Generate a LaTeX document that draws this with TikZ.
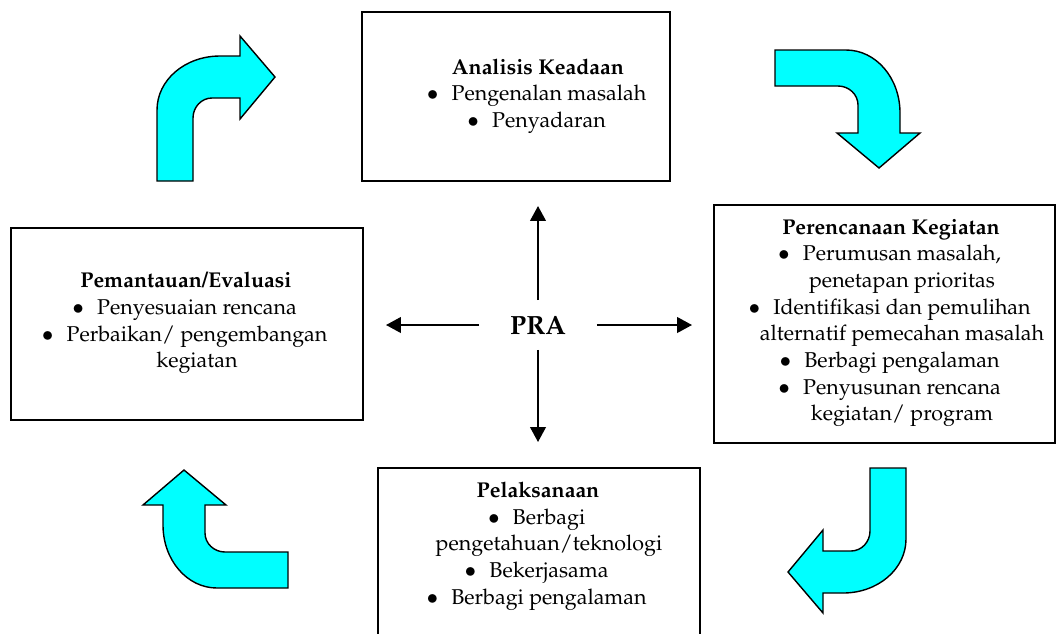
\documentclass[tikz,border=0pt]{standalone}
\usepackage[T1]{fontenc}
\usepackage{mathpazo}
\usetikzlibrary{arrows.meta}
\definecolor{Aqua}{RGB}{0,255,255}
\newcommand{\bul}{\hspace*{0.44cm}\llap{$\bullet$\hspace{0.26cm}}}
\newcommand{\cont}{\hspace*{0.44cm}}

\begin{document}
\begin{tikzpicture}[x=0.02cm,y=-0.02cm,
  every node/.style={align=center,font=\fontsize{12.2}{15.2}\selectfont},
  kotak/.style={draw,line width=1.2pt,inner sep=0pt},
  panah/.style={line width=0.9pt,-{Triangle[length=8.5pt,width=9pt]}},
  lengkung/.style={draw=black,fill=Aqua,line width=0.8pt,line join=miter}]
\useasboundingbox (0,0) rectangle (1060,633);
\clip (0,0) rectangle (1060,633);
% kotak kegiatan
\node[kotak,minimum width=6.16cm,minimum height=3.38cm] (ana) at (516,96.5) {};
\node[kotak,minimum width=6.82cm,minimum height=4.76cm] (ren) at (884.5,324) {};
\node[kotak,minimum width=6.44cm,minimum height=4.4cm] (pel) at (539,578) {};
\node[kotak,minimum width=7.04cm,minimum height=3.84cm] (pem) at (187,324) {};
\node (tana) at (538,96) {\textbf{Analisis Keadaan}\\ \bul Pengenalan masalah\\ \bul Penyadaran};
\node (tren) at (891,323) {\textbf{Perencanaan Kegiatan}\\ \bul Perumusan masalah,\\ \cont penetapan prioritas\\ \bul Identifikasi dan pemulihan\\ \cont alternatif pemecahan masalah\\ \bul Berbagi pengalaman\\ \bul Penyusunan rencana\\ \cont kegiatan/ program};
\node (tpel) at (538,546) {\textbf{Pelaksanaan}\\ \bul Berbagi\\ \cont pengetahuan/teknologi\\ \bul Bekerjasama\\ \bul Berbagi pengalaman};
\node (tpem) at (186,323) {\textbf{Pemantauan/Evaluasi}\\ \bul Penyesuaian rencana\\ \bul Perbaikan/ pengembangan\\ \cont kegiatan};
% pusat
\node[font=\fontsize{15}{18}\selectfont\bfseries,minimum width=2.34cm,minimum height=0.98cm,inner sep=0pt] (pra) at (538,325) {PRA};
\draw[panah,shorten >=0.48cm] (pra.north) -- (pra.north |- ana.south);
\draw[panah,shorten >=0.5cm] (pra.south) -- (pra.south |- pel.north);
\draw[panah,shorten >=0.44cm] (pra.west) -- (pra.west -| pem.east);
\draw[panah,shorten >=0.42cm] (pra.east) -- (pra.east -| ren.west);
% panah lengkung
\foreach \a/\b/\r in {157/56/0,900/50/-90,906/593/180,163/588/90}
  \draw[lengkung,shift={(\a,\b)},rotate=\r] (0,125) -- (36,125) -- (36,62) .. controls (36,51) and (44.5,42) .. (55,42) -- (83,42) -- (83,63) -- (118,21) -- (83,-20) -- (83,0) -- (63,0) .. controls (28,0) and (0,24) .. (0,54) -- cycle;
\end{tikzpicture}
\end{document}
